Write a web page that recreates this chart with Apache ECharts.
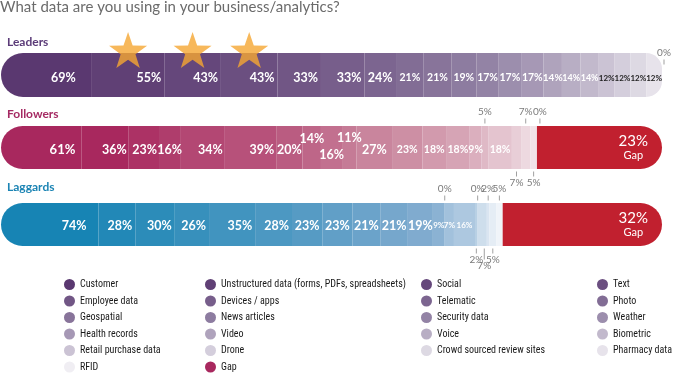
<!DOCTYPE html>
<html><head><meta charset="utf-8">
<script src="https://cdn.jsdelivr.net/npm/echarts@6/dist/echarts.min.js"></script>
<style>html,body{margin:0;padding:0;background:#fff}#c{width:674px;height:375px}</style>
</head><body><div id="c"></div>
<script>
// ---------- data ----------
const rowNames = ['Leaders', 'Followers', 'Laggards'];
const categories = ['Customer', 'Unstructured data (forms, PDFs, spreadsheets)', 'Social', 'Text',
  'Employee data', 'Devices / apps', 'Telematic', 'Photo',
  'Geospatial', 'News articles', 'Security data', 'Weather',
  'Health records', 'Video', 'Voice', 'Biometric',
  'Retail purchase data', 'Drone', 'Crowd sourced review sites', 'Pharmacy data', 'RFID'];
const leadersValues   = [69, 55, 43, 43, 33, 33, 24, 21, 21, 19, 17, 17, 17, 14, 14, 14, 12, 12, 12, 12, 0];
const followersValues = [61, 36, 23, 16, 34, 39, 20, 14, 16, 11, 27, 23, 18, 18, 9, 5, 18, 7, 7, 5, 0];
const laggardsValues  = [74, 28, 30, 26, 35, 28, 23, 23, 21, 21, 19, 9, 0, 7, 16, 2, 0, 7, 2, 5, 5];
const gapLabels = [null, 23, 32];
const starSegments = [1, 2, 3];
const legendColumns = [
  ['Customer', 'Employee data', 'Geospatial', 'Health records', 'Retail purchase data', 'RFID'],
  ['Unstructured data (forms, PDFs, spreadsheets)', 'Devices / apps', 'News articles', 'Video', 'Drone', 'Gap'],
  ['Social', 'Telematic', 'Security data', 'Voice', 'Crowd sourced review sites'],
  ['Text', 'Photo', 'Weather', 'Biometric', 'Pharmacy data']
];

// ---------- style ----------
const rows = [leadersValues, followersValues, laggardsValues];
const totals = rows.map(r => r.reduce((a, b) => a + b, 0));
const fullWidth = totals[0];
const palettes = [
  ['#5a3870', '#9383a5', '#f0eef3'],
  ['#a8285e', '#cb8aa0', '#f6eef1'],
  ['#1784b4', '#80abcf', '#f0f4f9']
];
const rowTitleColors = ['#5b3b78', '#a52a63', '#1b84b4'];
const gapColor = '#c1202f';
const grids = [{top: 53, h: 44}, {top: 126, h: 43}, {top: 203, h: 43}];
const outsideTop = [[20], [15, 18, 20], [12, 16, 18, 20]];
const outsideBottom = [[], [17, 19], [15, 17, 19]];
const FONT = 'Lato, "Noto Sans", sans-serif';

function hex2rgb(h) { return [1, 3, 5].map(k => parseInt(h.substr(k, 2), 16)); }
function mix(a, b, t) {
  const A = hex2rgb(a), B = hex2rgb(b);
  return '#' + A.map((x, k) => Math.round(x + (B[k] - x) * t).toString(16).padStart(2, '0')).join('');
}
function rowColor(r, i) {
  let t = r === 1 ? Math.max(0, i - 1) / 19 : i / 20;
  const p = palettes[r];
  return t <= 0.5 ? mix(p[0], p[1], t / 0.5) : mix(p[1], p[2], (t - 0.5) / 0.5);
}
const tickRich = {
  v: {fontSize: 10, color: '#7a7a7a', fontFamily: FONT, lineHeight: 12, align: 'center'},
  t: {width: 1, height: 5, backgroundColor: '#a0a0a0', fontSize: 1, lineHeight: 6, align: 'center'},
  tl: {width: 1, height: 11, backgroundColor: '#a0a0a0', fontSize: 1, lineHeight: 12, align: 'center'}
};
function labelFor(r, i) {
  const txt = rows[r][i] + '%';
  if (outsideTop[r].includes(i)) {
    const l = {show: true, position: 'top', distance: 2, formatter: '{v|' + txt + '}\n{t| }', rich: tickRich};
    if (r === 0) l.offset = [2, 14];
    if (r === 1 && i === 20) l.offset = [3, 0];
    return l;
  }
  if (outsideBottom[r].includes(i)) {
    const long = (r === 2 && i === 17);
    const l = {show: true, position: 'bottom', distance: 2, formatter: '{' + (long ? 'tl' : 't') + '| }\n{v|' + txt + '}', rich: tickRich};
    if (long) l.offset = [2, 0];
    return l;
  }
  let size, color = '#fff', pos = 'inside', dist = 3, dy = [3, 2, 1][r];
  if (r === 0) {
    size = i <= 6 ? 12.5 : i <= 12 ? 10.5 : i === 13 ? 10 : i <= 15 ? 9 : 8;
    if (i >= 16) color = '#1e1e1e';
    if (i <= 5) pos = 'insideRight';
    if (i === 0) dist = 16;
  } else if (r === 1) {
    size = i === 0 ? 13 : i <= 10 ? 12.5 : 10.5;
    if ([0, 1, 2, 4, 5].includes(i)) pos = 'insideRight';
    dist = i === 0 ? 6 : 2;
    if (i === 7) dy = -9;
    if (i === 8) dy = 7;
    if (i === 9) dy = -10;
  } else {
    size = i <= 10 ? 12.5 : 8;
    if (i <= 5) pos = 'insideRight';
    if (i === 0) dist = 12;
  }
  return {show: true, position: pos, distance: dist, offset: [0, dy], formatter: txt,
    color: color, fontSize: size, fontWeight: 'bold', fontFamily: FONT};
}
function radiusFor(r, i) {
  if (i === 0) return [22, 0, 0, 22];
  if (r === 0 && i === 19) return [0, 22, 22, 0];
  return 0;
}

const series = [];
categories.forEach((name, i) => {
  rows.forEach((vals, r) => {
    series.push({
      type: 'bar', name: name, stack: 's' + r, xAxisIndex: r, yAxisIndex: r,
      barWidth: grids[r].h, silent: true, animation: false,
      itemStyle: {color: rowColor(0, i)},
      data: [{value: vals[i], itemStyle: {color: rowColor(r, i), borderRadius: radiusFor(r, i)}, label: labelFor(r, i)}]
    });
  });
});
[1, 2].forEach(r => {
  series.push({
    type: 'bar', name: 'Gap', stack: 's' + r, xAxisIndex: r, yAxisIndex: r,
    barWidth: grids[r].h, silent: true, animation: false,
    itemStyle: {color: '#a8285e'},
    data: [{value: fullWidth - totals[r], itemStyle: {color: gapColor, borderRadius: [0, 22, 22, 0]},
      label: {show: true, position: 'insideRight', distance: 14, formatter: '{a|' + gapLabels[r] + '%}\n{b|Gap}',
        rich: {a: {fontSize: 15, color: '#fff', fontFamily: FONT, lineHeight: 16, align: 'center'},
               b: {fontSize: 11, color: '#fff', fontFamily: FONT, lineHeight: 13, align: 'center'}}}}]
  });
});
// stars over the highlighted Leaders segments
function cum(vals, i) { let s = 0; for (let k = 0; k < i; k++) s += vals[k]; return s; }
const starPts = [];
for (let k = 0; k < 10; k++) {
  const a = -Math.PI / 2 + k * Math.PI / 5, rr = k % 2 ? 0.39 : 1;
  starPts.push((rr * Math.cos(a)).toFixed(4) + ',' + (rr * Math.sin(a)).toFixed(4));
}
const starPath = 'path://M' + starPts.join(' L') + ' Z';
series.push({
  type: 'scatter', name: 'stars', xAxisIndex: 0, yAxisIndex: 0, silent: true, animation: false, z: 10,
  symbol: starPath, symbolSize: [38, 36], symbolOffset: [0, -25],
  itemStyle: {color: '#f5a632'},
  data: starSegments.map(i => [cum(leadersValues, i) + leadersValues[i] / 2, 0])
});

const option = {
  animation: false,
  title: [
    {text: 'What data are you using in your business/analytics?', left: 0, top: 0, padding: 0,
      textStyle: {fontSize: 15, fontWeight: 'normal', color: '#6b6b6b', fontFamily: FONT}},
    ...rowNames.map((n, r) => ({text: n, left: 7, top: [36, 108, 181][r], padding: 0,
      textStyle: {fontSize: 12, fontWeight: 'bold', color: rowTitleColors[r], fontFamily: FONT}}))
  ],
  grid: grids.map(g => ({left: 1, width: 661, top: g.top, height: g.h})),
  xAxis: grids.map((g, r) => ({type: 'value', gridIndex: r, min: 0, max: fullWidth, show: false})),
  yAxis: grids.map((g, r) => ({type: 'category', gridIndex: r, data: [rowNames[r]], show: false})),
  legend: legendColumns.map((col, k) => ({
    data: col, orient: 'vertical', left: [64, 205, 421, 597][k], top: 279,
    itemWidth: 11, itemHeight: 11, itemGap: 5.5, icon: 'circle', selectedMode: false, padding: 0,
    textStyle: {fontSize: 10, color: '#1a1a1a', fontFamily: '"Liberation Sans Narrow", "Roboto Condensed", Roboto, sans-serif'}
  })),
  series: series
};
echarts.init(document.getElementById('c'), null, {renderer: 'canvas'}).setOption(option);
</script>
</body></html>
